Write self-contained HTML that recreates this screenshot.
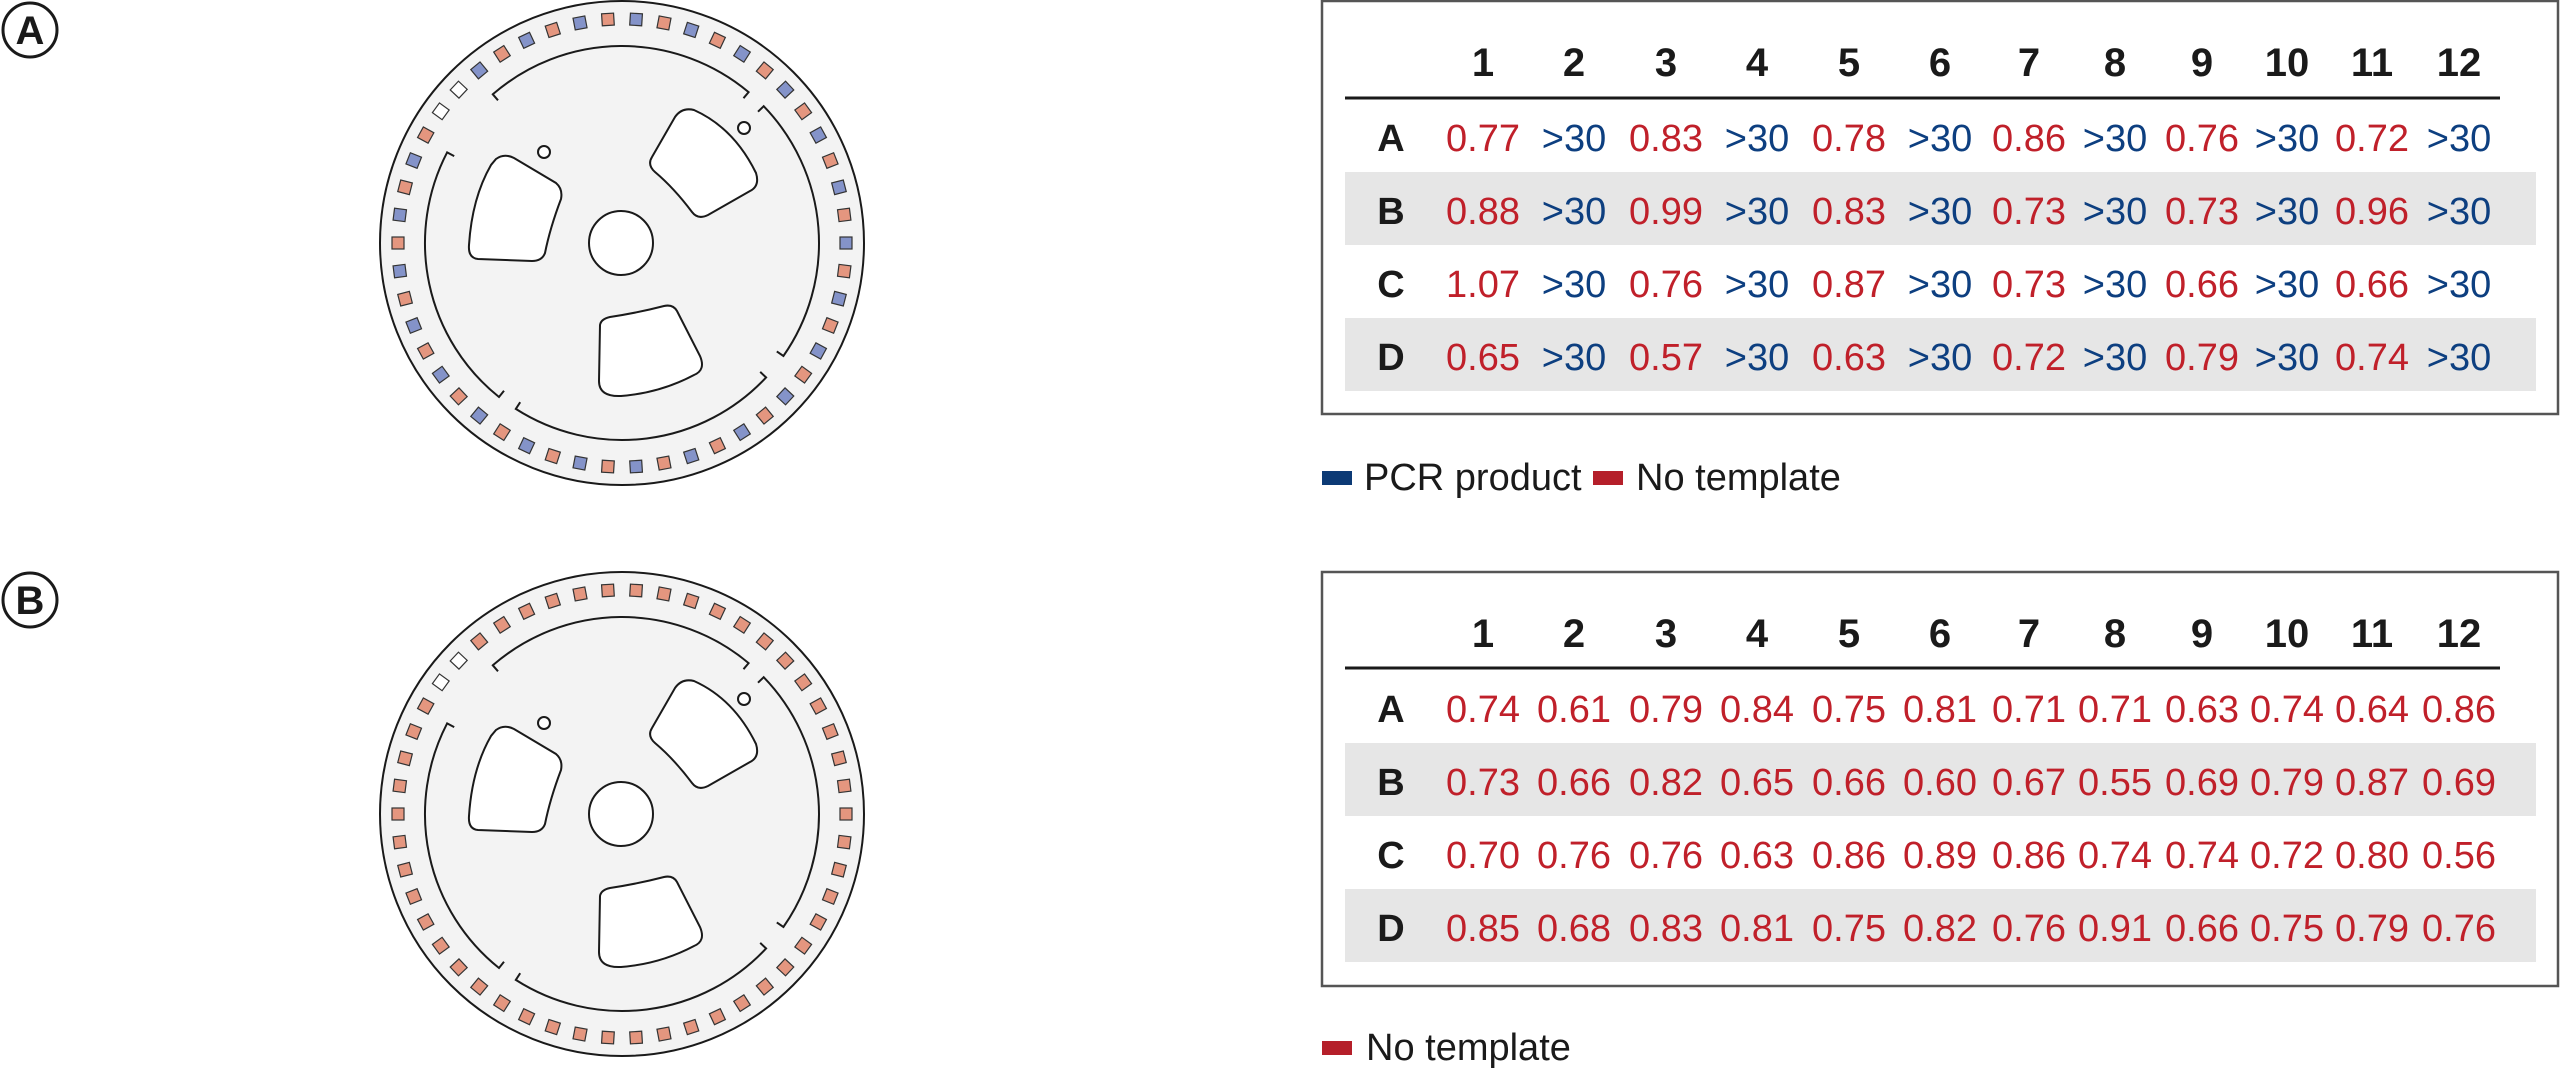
<!DOCTYPE html>
<html><head><meta charset="utf-8"><style>
html,body{margin:0;padding:0;background:#fff;}
svg{display:block}
.h{font-family:"Liberation Sans",sans-serif;font-weight:bold;font-size:40px;fill:#1a1a1a;text-anchor:middle}
.l{font-family:"Liberation Sans",sans-serif;font-weight:bold;font-size:38px;fill:#1a1a1a;text-anchor:middle}
.v{font-family:"Liberation Sans",sans-serif;font-size:38px;text-anchor:middle}
.r{fill:#c0202a}.u{fill:#0d3f80}
.lg{font-family:"Liberation Sans",sans-serif;font-size:38px;fill:#1a1a1a}
.sb{fill:#8493c9}.sr{fill:#e4967f}.sw{fill:#fff}
</style></head><body>
<svg width="2560" height="1072" viewBox="0 0 2560 1072" xmlns="http://www.w3.org/2000/svg">
<defs>
<rect id="s" x="218" y="-6" width="12" height="12" stroke="#333" stroke-width="1.2"/>
<g id="disc" fill="none" stroke="#1a1a1a" stroke-width="2">
<circle cx="0" cy="0" r="242" fill="#f3f3f3" stroke-width="2"/>
<path d="M -124,-142.7 L -129.2,-148.7 A 197 197 0 0 1 126.6,-150.9 L 121.5,-144.8"/>
<path d="M 136,-131.3 L 141.7,-136.8 A 197 197 0 0 1 161.4,113 L 154.8,108.4"/>
<path d="M 138.2,128.9 L 144.1,134.4 A 197 197 0 0 1 -106.2,165.9 L -101.8,159.2"/>
<path d="M -118,147.8 L -123,154 A 197 197 0 0 1 -174.9,-90.6 L -167.8,-86.9"/>
<circle cx="-1" cy="0" r="32" fill="#fff"/>
<circle cx="-78" cy="-91" r="6" fill="#fff"/>
<circle cx="122" cy="-115" r="6" fill="#fff"/>
<path fill="#fff" d="M -126,-84 Q -118,-90 -108,-85 L -66,-60 Q -59,-54 -61,-44 Q -72,-15 -77,10 Q -80,18 -90,18 L -144,16 Q -154,15 -153,2 Q -150,-45 -131,-78 Z"/>
<path fill="#fff" d="M 53,-126 Q 60,-136 72,-133 Q 112,-115 134,-70 Q 138,-57 128,-52 L 86,-28 Q 76,-23 70,-31 Q 52,-55 33,-71 Q 25,-78 30,-86 Z"/>
<path fill="#fff" d="M -22,82 Q -21,76 -12,74 Q 15,70 42,63 Q 51,61 55,68 L 78,113 Q 84,127 72,132 Q 38,150 -1,153 Q -23,154 -23,138 Z"/>
</g>
</defs>

<!-- Labels -->
<circle cx="30" cy="30" r="27" fill="#fff" stroke="#1a1a1a" stroke-width="3"/>
<text x="30" y="44" class="l" style="font-size:40px">A</text>
<circle cx="30" cy="600" r="27" fill="#fff" stroke="#1a1a1a" stroke-width="3"/>
<text x="30" y="614" class="l" style="font-size:40px">B</text>

<!-- Disc A -->
<g transform="translate(622,243)">
<use href="#disc"/>
<use href="#s" class="sb" transform="rotate(0)"/>
<use href="#s" class="sr" transform="rotate(-7.2)"/>
<use href="#s" class="sb" transform="rotate(-14.4)"/>
<use href="#s" class="sr" transform="rotate(-21.6)"/>
<use href="#s" class="sb" transform="rotate(-28.8)"/>
<use href="#s" class="sr" transform="rotate(-36)"/>
<use href="#s" class="sb" transform="rotate(-43.2)"/>
<use href="#s" class="sr" transform="rotate(-50.4)"/>
<use href="#s" class="sb" transform="rotate(-57.6)"/>
<use href="#s" class="sr" transform="rotate(-64.8)"/>
<use href="#s" class="sb" transform="rotate(-72)"/>
<use href="#s" class="sr" transform="rotate(-79.2)"/>
<use href="#s" class="sb" transform="rotate(-86.4)"/>
<use href="#s" class="sr" transform="rotate(-93.6)"/>
<use href="#s" class="sb" transform="rotate(-100.8)"/>
<use href="#s" class="sr" transform="rotate(-108)"/>
<use href="#s" class="sb" transform="rotate(-115.2)"/>
<use href="#s" class="sr" transform="rotate(-122.4)"/>
<use href="#s" class="sb" transform="rotate(-129.6)"/>
<use href="#s" class="sw" transform="rotate(-136.8)"/>
<use href="#s" class="sw" transform="rotate(-144)"/>
<use href="#s" class="sr" transform="rotate(-151.2)"/>
<use href="#s" class="sb" transform="rotate(-158.4)"/>
<use href="#s" class="sr" transform="rotate(-165.6)"/>
<use href="#s" class="sb" transform="rotate(-172.8)"/>
<use href="#s" class="sr" transform="rotate(-180)"/>
<use href="#s" class="sb" transform="rotate(-187.2)"/>
<use href="#s" class="sr" transform="rotate(-194.4)"/>
<use href="#s" class="sb" transform="rotate(-201.6)"/>
<use href="#s" class="sr" transform="rotate(-208.8)"/>
<use href="#s" class="sb" transform="rotate(-216)"/>
<use href="#s" class="sr" transform="rotate(-223.2)"/>
<use href="#s" class="sb" transform="rotate(-230.4)"/>
<use href="#s" class="sr" transform="rotate(-237.6)"/>
<use href="#s" class="sb" transform="rotate(-244.8)"/>
<use href="#s" class="sr" transform="rotate(-252)"/>
<use href="#s" class="sb" transform="rotate(-259.2)"/>
<use href="#s" class="sr" transform="rotate(-266.4)"/>
<use href="#s" class="sb" transform="rotate(-273.6)"/>
<use href="#s" class="sr" transform="rotate(-280.8)"/>
<use href="#s" class="sb" transform="rotate(-288)"/>
<use href="#s" class="sr" transform="rotate(-295.2)"/>
<use href="#s" class="sb" transform="rotate(-302.4)"/>
<use href="#s" class="sr" transform="rotate(-309.6)"/>
<use href="#s" class="sb" transform="rotate(-316.8)"/>
<use href="#s" class="sr" transform="rotate(-324)"/>
<use href="#s" class="sb" transform="rotate(-331.2)"/>
<use href="#s" class="sr" transform="rotate(-338.4)"/>
<use href="#s" class="sb" transform="rotate(-345.6)"/>
<use href="#s" class="sr" transform="rotate(-352.8)"/>
</g>

<!-- Disc B -->
<g transform="translate(622,814)">
<use href="#disc"/>
<use href="#s" class="sr" transform="rotate(0)"/>
<use href="#s" class="sr" transform="rotate(-7.2)"/>
<use href="#s" class="sr" transform="rotate(-14.4)"/>
<use href="#s" class="sr" transform="rotate(-21.6)"/>
<use href="#s" class="sr" transform="rotate(-28.8)"/>
<use href="#s" class="sr" transform="rotate(-36)"/>
<use href="#s" class="sr" transform="rotate(-43.2)"/>
<use href="#s" class="sr" transform="rotate(-50.4)"/>
<use href="#s" class="sr" transform="rotate(-57.6)"/>
<use href="#s" class="sr" transform="rotate(-64.8)"/>
<use href="#s" class="sr" transform="rotate(-72)"/>
<use href="#s" class="sr" transform="rotate(-79.2)"/>
<use href="#s" class="sr" transform="rotate(-86.4)"/>
<use href="#s" class="sr" transform="rotate(-93.6)"/>
<use href="#s" class="sr" transform="rotate(-100.8)"/>
<use href="#s" class="sr" transform="rotate(-108)"/>
<use href="#s" class="sr" transform="rotate(-115.2)"/>
<use href="#s" class="sr" transform="rotate(-122.4)"/>
<use href="#s" class="sr" transform="rotate(-129.6)"/>
<use href="#s" class="sw" transform="rotate(-136.8)"/>
<use href="#s" class="sw" transform="rotate(-144)"/>
<use href="#s" class="sr" transform="rotate(-151.2)"/>
<use href="#s" class="sr" transform="rotate(-158.4)"/>
<use href="#s" class="sr" transform="rotate(-165.6)"/>
<use href="#s" class="sr" transform="rotate(-172.8)"/>
<use href="#s" class="sr" transform="rotate(-180)"/>
<use href="#s" class="sr" transform="rotate(-187.2)"/>
<use href="#s" class="sr" transform="rotate(-194.4)"/>
<use href="#s" class="sr" transform="rotate(-201.6)"/>
<use href="#s" class="sr" transform="rotate(-208.8)"/>
<use href="#s" class="sr" transform="rotate(-216)"/>
<use href="#s" class="sr" transform="rotate(-223.2)"/>
<use href="#s" class="sr" transform="rotate(-230.4)"/>
<use href="#s" class="sr" transform="rotate(-237.6)"/>
<use href="#s" class="sr" transform="rotate(-244.8)"/>
<use href="#s" class="sr" transform="rotate(-252)"/>
<use href="#s" class="sr" transform="rotate(-259.2)"/>
<use href="#s" class="sr" transform="rotate(-266.4)"/>
<use href="#s" class="sr" transform="rotate(-273.6)"/>
<use href="#s" class="sr" transform="rotate(-280.8)"/>
<use href="#s" class="sr" transform="rotate(-288)"/>
<use href="#s" class="sr" transform="rotate(-295.2)"/>
<use href="#s" class="sr" transform="rotate(-302.4)"/>
<use href="#s" class="sr" transform="rotate(-309.6)"/>
<use href="#s" class="sr" transform="rotate(-316.8)"/>
<use href="#s" class="sr" transform="rotate(-324)"/>
<use href="#s" class="sr" transform="rotate(-331.2)"/>
<use href="#s" class="sr" transform="rotate(-338.4)"/>
<use href="#s" class="sr" transform="rotate(-345.6)"/>
<use href="#s" class="sr" transform="rotate(-352.8)"/>
</g>

<!-- Table A -->
<rect x="1322" y="1" width="1236" height="413" fill="#fff" stroke="#555" stroke-width="2.5"/>
<rect x="1345" y="172" width="1191" height="73" fill="#e6e6e6"/>
<rect x="1345" y="318" width="1191" height="73" fill="#e6e6e6"/>
<line x1="1345" y1="98" x2="2500" y2="98" stroke="#1a1a1a" stroke-width="3"/>
<g class="h">
<text x="1483" y="76">1</text><text x="1574" y="76">2</text><text x="1666" y="76">3</text><text x="1757" y="76">4</text><text x="1849" y="76">5</text><text x="1940" y="76">6</text><text x="2029" y="76">7</text><text x="2115" y="76">8</text><text x="2202" y="76">9</text><text x="2287" y="76">10</text><text x="2372" y="76">11</text><text x="2459" y="76">12</text>
</g>
<g class="l"><text x="1391" y="151">A</text><text x="1391" y="224">B</text><text x="1391" y="297">C</text><text x="1391" y="370">D</text></g>
<g class="v">
<text y="151"><tspan class="r" x="1483">0.77</tspan><tspan class="u" x="1574">&gt;30</tspan><tspan class="r" x="1666">0.83</tspan><tspan class="u" x="1757">&gt;30</tspan><tspan class="r" x="1849">0.78</tspan><tspan class="u" x="1940">&gt;30</tspan><tspan class="r" x="2029">0.86</tspan><tspan class="u" x="2115">&gt;30</tspan><tspan class="r" x="2202">0.76</tspan><tspan class="u" x="2287">&gt;30</tspan><tspan class="r" x="2372">0.72</tspan><tspan class="u" x="2459">&gt;30</tspan></text>
<text y="224"><tspan class="r" x="1483">0.88</tspan><tspan class="u" x="1574">&gt;30</tspan><tspan class="r" x="1666">0.99</tspan><tspan class="u" x="1757">&gt;30</tspan><tspan class="r" x="1849">0.83</tspan><tspan class="u" x="1940">&gt;30</tspan><tspan class="r" x="2029">0.73</tspan><tspan class="u" x="2115">&gt;30</tspan><tspan class="r" x="2202">0.73</tspan><tspan class="u" x="2287">&gt;30</tspan><tspan class="r" x="2372">0.96</tspan><tspan class="u" x="2459">&gt;30</tspan></text>
<text y="297"><tspan class="r" x="1483">1.07</tspan><tspan class="u" x="1574">&gt;30</tspan><tspan class="r" x="1666">0.76</tspan><tspan class="u" x="1757">&gt;30</tspan><tspan class="r" x="1849">0.87</tspan><tspan class="u" x="1940">&gt;30</tspan><tspan class="r" x="2029">0.73</tspan><tspan class="u" x="2115">&gt;30</tspan><tspan class="r" x="2202">0.66</tspan><tspan class="u" x="2287">&gt;30</tspan><tspan class="r" x="2372">0.66</tspan><tspan class="u" x="2459">&gt;30</tspan></text>
<text y="370"><tspan class="r" x="1483">0.65</tspan><tspan class="u" x="1574">&gt;30</tspan><tspan class="r" x="1666">0.57</tspan><tspan class="u" x="1757">&gt;30</tspan><tspan class="r" x="1849">0.63</tspan><tspan class="u" x="1940">&gt;30</tspan><tspan class="r" x="2029">0.72</tspan><tspan class="u" x="2115">&gt;30</tspan><tspan class="r" x="2202">0.79</tspan><tspan class="u" x="2287">&gt;30</tspan><tspan class="r" x="2372">0.74</tspan><tspan class="u" x="2459">&gt;30</tspan></text>
</g>
<!-- Legend A -->
<rect x="1322" y="471" width="30" height="14" fill="#0c3a75"/>
<text x="1364" y="490" class="lg">PCR product</text>
<rect x="1593" y="471" width="30" height="14" fill="#b51f2a"/>
<text x="1636" y="490" class="lg">No template</text>

<!-- Table B -->
<rect x="1322" y="572" width="1236" height="414" fill="#fff" stroke="#555" stroke-width="2.5"/>
<rect x="1345" y="743" width="1191" height="73" fill="#e6e6e6"/>
<rect x="1345" y="889" width="1191" height="73" fill="#e6e6e6"/>
<line x1="1345" y1="668" x2="2500" y2="668" stroke="#1a1a1a" stroke-width="3"/>
<g class="h">
<text x="1483" y="647">1</text><text x="1574" y="647">2</text><text x="1666" y="647">3</text><text x="1757" y="647">4</text><text x="1849" y="647">5</text><text x="1940" y="647">6</text><text x="2029" y="647">7</text><text x="2115" y="647">8</text><text x="2202" y="647">9</text><text x="2287" y="647">10</text><text x="2372" y="647">11</text><text x="2459" y="647">12</text>
</g>
<g class="l"><text x="1391" y="722">A</text><text x="1391" y="795">B</text><text x="1391" y="868">C</text><text x="1391" y="941">D</text></g>
<g class="v r">
<text y="722"><tspan x="1483">0.74</tspan><tspan x="1574">0.61</tspan><tspan x="1666">0.79</tspan><tspan x="1757">0.84</tspan><tspan x="1849">0.75</tspan><tspan x="1940">0.81</tspan><tspan x="2029">0.71</tspan><tspan x="2115">0.71</tspan><tspan x="2202">0.63</tspan><tspan x="2287">0.74</tspan><tspan x="2372">0.64</tspan><tspan x="2459">0.86</tspan></text>
<text y="795"><tspan x="1483">0.73</tspan><tspan x="1574">0.66</tspan><tspan x="1666">0.82</tspan><tspan x="1757">0.65</tspan><tspan x="1849">0.66</tspan><tspan x="1940">0.60</tspan><tspan x="2029">0.67</tspan><tspan x="2115">0.55</tspan><tspan x="2202">0.69</tspan><tspan x="2287">0.79</tspan><tspan x="2372">0.87</tspan><tspan x="2459">0.69</tspan></text>
<text y="868"><tspan x="1483">0.70</tspan><tspan x="1574">0.76</tspan><tspan x="1666">0.76</tspan><tspan x="1757">0.63</tspan><tspan x="1849">0.86</tspan><tspan x="1940">0.89</tspan><tspan x="2029">0.86</tspan><tspan x="2115">0.74</tspan><tspan x="2202">0.74</tspan><tspan x="2287">0.72</tspan><tspan x="2372">0.80</tspan><tspan x="2459">0.56</tspan></text>
<text y="941"><tspan x="1483">0.85</tspan><tspan x="1574">0.68</tspan><tspan x="1666">0.83</tspan><tspan x="1757">0.81</tspan><tspan x="1849">0.75</tspan><tspan x="1940">0.82</tspan><tspan x="2029">0.76</tspan><tspan x="2115">0.91</tspan><tspan x="2202">0.66</tspan><tspan x="2287">0.75</tspan><tspan x="2372">0.79</tspan><tspan x="2459">0.76</tspan></text>
</g>
<!-- Legend B -->
<rect x="1322" y="1041" width="30" height="14" fill="#b51f2a"/>
<text x="1366" y="1060" class="lg">No template</text>
</svg>
</body></html>
